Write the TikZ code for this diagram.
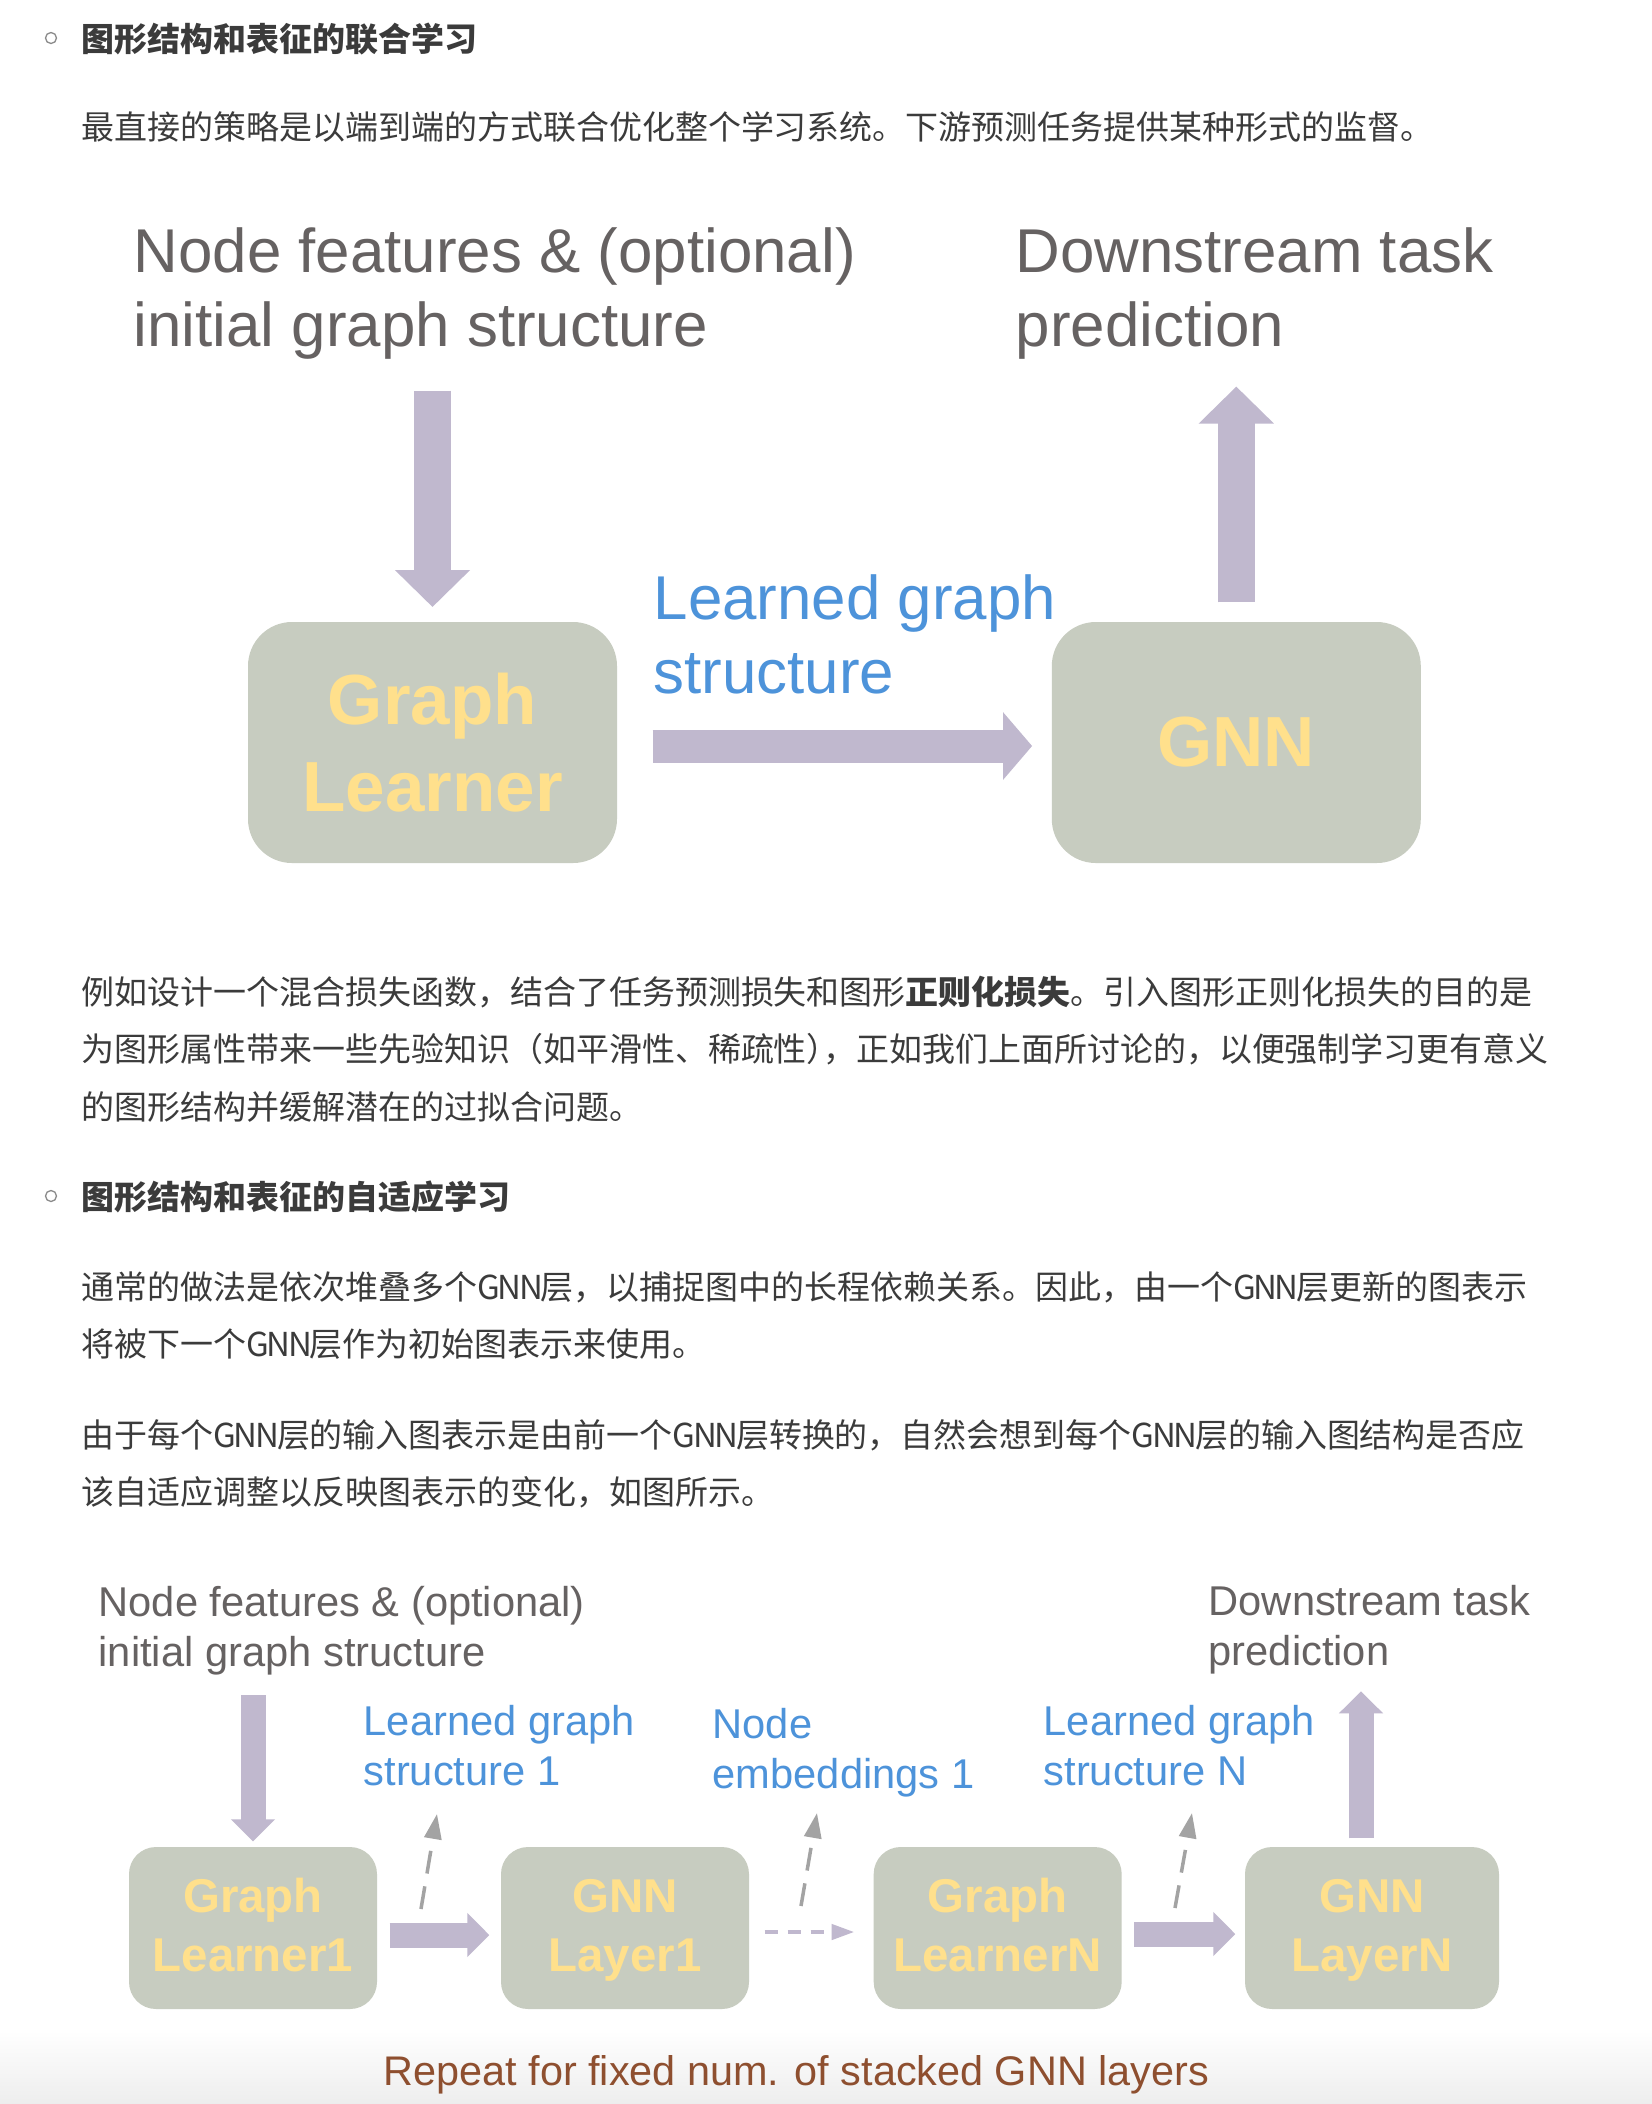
\documentclass[tikz,border=0pt]{standalone}
\usepackage{fontspec}
\setmainfont{Liberation Sans}
\newfontfamily\cjk{Noto Sans CJK SC}
\usetikzlibrary{arrows.meta}

\definecolor{boxfill}{HTML}{C7CCC0}
\definecolor{boxtext}{HTML}{FFE08C}
\definecolor{lilac}{HTML}{C0B8CE}
\definecolor{labelblue}{HTML}{4D93DA}
\definecolor{labelgray}{HTML}{666262}
\definecolor{bodytext}{HTML}{3B3B3B}
\definecolor{repeatbrown}{HTML}{8E4F2F}
\definecolor{dashgray}{HTML}{A3A3A3}
\definecolor{bulletgray}{HTML}{8A8A8A}

% the page sets GNN a little tighter than the CJK font does
\newcommand{\gnnword}{G\kern-0.07em N\kern-0.07em N\kern-0.07em}

\begin{document}
\begin{tikzpicture}[x=0.1mm, y=-0.1mm,
  line/.style={anchor=west, inner sep=0, text=bodytext, font=\cjk\fontsize{9.38}{12}\selectfont},
  head/.style={line, font=\cjk\bfseries\fontsize{9.38}{12}\selectfont},
  bullet/.style={draw=bulletgray, line width=0.13mm, circle, inner sep=0, minimum size=1.1mm},
  bigtxt/.style={anchor=base west, inner sep=0, align=left, font=\fontsize{17.6}{20.97}\selectfont},
  smalltxt/.style={anchor=base west, inner sep=0, align=left, font=\fontsize{11.85}{14}\selectfont},
  bigbox/.style={fill=boxfill, rounded corners=4.4mm, minimum width=36.9mm, minimum height=24.1mm, text=boxtext, align=center, font=\bfseries\fontsize{20.2}{24.75}\selectfont},
  smallbox/.style={fill=boxfill, rounded corners=2.7mm, minimum width=24.8mm, minimum height=16.2mm, text height=26pt, text depth=1.5pt, text=boxtext, align=center, font=\bfseries\fontsize{13.5}{16.65}\selectfont},
  fatv/.style={draw=lilac, line width=3.7mm, -{Triangle[width=7.3mm, length=3.7mm]}},
  fath/.style={draw=lilac, line width=3.3mm, -{Triangle[width=6.6mm, length=2.9mm]}},
  thin/.style={draw=lilac, line width=2.5mm, -{Triangle[width=4.3mm, length=2.2mm]}},
  ldash/.style={draw=lilac, line width=0.45mm, dash pattern=on 1.3mm off 1mm, -{Triangle[width=1.5mm, length=2.3mm]}},
  gdash/.style={draw=dashgray, line width=0.35mm, dash pattern=on 2.3mm off 1.3mm, -{Triangle[width=1.7mm, length=2.5mm]}}]

\fill[white] (0,0) rectangle (1652,2104);
\useasboundingbox (0,0) rectangle (1652,2104);
\shade[top color=white, bottom color=black!7] (0,2030) rectangle (1652,2104);

% text above the first picture
\node[bullet] at (51,38) (b1) {};
\node[head] at (81,39) (h1) {图形结构和表征的联合学习};
\node[line] at (81,127) (p1) {最直接的策略是以端到端的方式联合优化整个学习系统。下游预测任务提供某种形式的监督。};

% end-to-end picture
\node[bigtxt, text=labelgray] at (133,346) (nf1) {Node features \& (optional)\\initial graph structure};
\node[bigtxt, text=labelgray] at (1015,346) (ds1) {Downstream task\\prediction};
\node[bigtxt, text=labelblue] at (653,693) (lg1) {Learned graph\\structure};

\node[bigbox] at (432.5,742.5) (gl1) {Graph\\Learner};
\node[bigbox] at (1236.3,742.5) (gnn) {GNN};

\draw[fatv, shorten <=3.1mm, shorten >=1.43mm] (nf1.south -| gl1.north) -- (gl1.north);
\draw[fath, shorten <=3.5mm, shorten >=1.9mm] ([yshift=-0.35mm]gl1.east) -- ([yshift=-0.35mm]gnn.west);
\draw[fatv, shorten <=1.9mm, shorten >=2.7mm] (gnn.north) -- (gnn.north |- ds1.south);

% text between the pictures
\node[line] at (81,992) (p2a) {例如设计一个混合损失函数，结合了任务预测损失和图形{\bfseries 正则化损失}。引入图形正则化损失的目的是};
\node[line] at (81,1049) (p2b) {为图形属性带来一些先验知识（如平滑性、稀疏性）\kern-0.5em，正如我们上面所讨论的，以便强制学习更有意义};
\node[line] at (81,1107) (p2c) {的图形结构并缓解潜在的过拟合问题。};
\node[bullet] at (51,1196) (b2) {};
\node[head] at (81,1197) (h2) {图形结构和表征的自适应学习};
\node[line] at (81,1287) (p3a) {通常的做法是依次堆叠多个\gnnword 层，以捕捉图中的长程依赖关系。因此，由一个\gnnword 层更新的图表示};
\node[line] at (81,1344) (p3b) {将被下一个\gnnword 层作为初始图表示来使用。};
\node[line] at (81,1435) (p4a) {由于每个\gnnword 层的输入图表示是由前一个\gnnword 层转换的，自然会想到每个\gnnword 层的输入图结构是否应};
\node[line] at (81,1492) (p4b) {该自适应调整以反映图表示的变化，如图所示。};

% stacked picture
\node[smalltxt, text=labelgray] at (98,1666) (nf2) {Node features \& (optional)\\initial graph structure};
\node[smalltxt, text=labelgray] at (1208,1665) (ds2) {Downstream task\\prediction};
\node[smalltxt, text=labelblue] at (363,1785) (lgs1) {Learned graph\\structure 1};
\node[smalltxt, text=labelblue] at (712,1788) (emb1) {Node\\embeddings 1};
\node[smalltxt, text=labelblue] at (1043,1785) (lgsn) {Learned graph\\structure N};

\node[smallbox] at (253,1928) (gl2) {Graph\\Learner1};
\node[smallbox] at (625,1928) (layer1) {GNN\\Layer1};
\node[smallbox] at (997.7,1928) (gln) {Graph\\LearnerN};
\node[smallbox, minimum width=25.4mm] at (1372,1928) (layern) {GNN\\LayerN};

\draw[thin, shorten <=2mm, shorten >=0.5mm] (nf2.south -| gl2.north) -- (gl2.north);
\draw[thin, shorten <=1.2mm, shorten >=1.1mm] ([yshift=-0.7mm]gl2.east) -- ([yshift=-0.7mm]layer1.west);
\draw[ldash, shorten <=1.5mm, shorten >=1.85mm] ([yshift=-0.4mm]layer1.east) -- ([yshift=-0.4mm]gln.west);
\draw[thin, shorten <=1.2mm, shorten >=0.9mm] ([yshift=-0.6mm]gln.east) -- ([yshift=-0.6mm]layern.west);
\draw[thin, shorten <=0.8mm, shorten >=1.7mm] ([xshift=-1.1mm]layern.north) -- ([xshift=-1.1mm]layern.north |- ds2.south);

\coordinate (s1) at (421,1909);
\coordinate (t1) at (437,1814);
\coordinate (s2) at (801,1906);
\coordinate (t2) at (817,1813);
\coordinate (s3) at (1175,1908);
\coordinate (t3) at (1192,1813);
\draw[gdash] (s1) -- (t1);
\draw[gdash] (s2) -- (t2);
\draw[gdash] (s3) -- (t3);

\node[smalltxt, text=repeatbrown, font=\fontsize{11.78}{14}\selectfont] at (383,2085) (rep) {Repeat for fixed num. of stacked GNN layers};
\end{tikzpicture}
\end{document}
